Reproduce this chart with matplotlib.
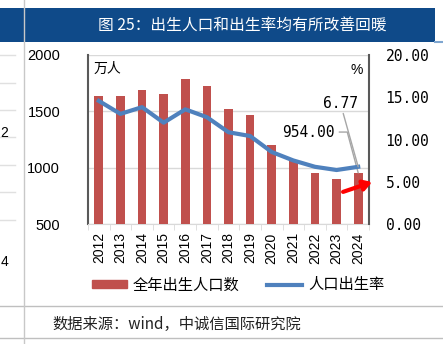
import matplotlib
matplotlib.use("Agg")
import matplotlib.pyplot as plt
import numpy as np
from matplotlib.patches import Rectangle
from matplotlib.lines import Line2D

plt.rcParams['font.family'] = ['Noto Sans CJK SC', 'DejaVu Sans']

years = ['2012', '2013', '2014', '2015', '2016', '2017', '2018', '2019',
         '2020', '2021', '2022', '2023', '2024']
births = [1635, 1640, 1687, 1655, 1786, 1723, 1523, 1465, 1202, 1062, 956, 902, 954]
rate = [14.57, 13.03, 13.83, 11.99, 13.57, 12.64, 10.86, 10.41, 8.52, 7.52, 6.77, 6.39, 6.77]
left_ticks = [500, 1000, 1500, 2000]
right_ticks = [0, 5, 10, 15, 20]

title = '图 25：出生人口和出生率均有所改善回暖'
legend_labels = ['全年出生人口数', '人口出生率']
source = '数据来源：wind，中诚信国际研究院'

W, H = 443, 344
fig = plt.figure(figsize=(W / 100, H / 100), dpi=100)

def fx(px):
    return px / W

def fy(py):
    return 1 - py / H

# Title bar
fig.patches.append(Rectangle((0, fy(42)), fx(435), fy(8) - fy(42), transform=fig.transFigure,
                             facecolor='#0f4a89', edgecolor='none', zorder=0))
fig.lines.append(Line2D([fx(435), 1], [fy(42), fy(42)], transform=fig.transFigure,
                        color='#7fa6d0', lw=1.5))
fig.text(fx(242), fy(25), title, color='white', fontsize=11.3, ha='center', va='center')

# left divider and partial neighbour chart
fig.lines.append(Line2D([fx(24), fx(24)], [fy(0), fy(344)], transform=fig.transFigure,
                        color='#c8c8c8', lw=1, zorder=5))
for gy in [55, 83, 110, 137, 165, 192, 220]:
    fig.lines.append(Line2D([0, fx(15)], [fy(gy), fy(gy)], transform=fig.transFigure,
                            color='#e0e0e0', lw=1))
fig.text(fx(0.5), fy(133), '2', fontsize=10, family='Liberation Sans', ha='left', va='center')
fig.text(fx(0.5), fy(262), '4', fontsize=10, family='Liberation Sans', ha='left', va='center')

# separator lines at bottom
fig.lines.append(Line2D([0, 1], [fy(306), fy(306)], transform=fig.transFigure, color='#bfbfbf', lw=1))
fig.lines.append(Line2D([0, 1], [fy(338), fy(338)], transform=fig.transFigure, color='#bfbfbf', lw=1))
fig.text(fx(52), fy(324), source, fontsize=11, ha='left', va='center', color='#222222')

# main axes
ax = fig.add_axes([fx(88), fy(224), fx(369) - fx(88), fy(55) - fy(224)])
x = np.arange(len(years))
bars = ax.bar(x, births, width=0.4, color='#c0504d', zorder=3)
ax.set_ylim(500, 2000)
ax.set_xlim(-0.5, len(years) - 0.5)
ax.set_yticks(left_ticks)
ax.set_yticklabels([str(t) for t in left_ticks], family='Liberation Sans', fontsize=10.5)
ax.tick_params(axis='y', length=0, pad=20)
ax.set_xticks(x)
ax.set_xticklabels(years, rotation=90, family='Liberation Sans', fontsize=10)
ax.tick_params(axis='x', length=0, pad=6)
ax.set_xticks(np.arange(-0.5, len(years)), minor=True)
ax.tick_params(axis='x', which='minor', length=4, color='#d9d9d9')
ax.grid(axis='y', color='#d9d9d9', lw=1, zorder=0)
ax.spines['top'].set_visible(False)
ax.spines['bottom'].set_color('#d9d9d9')
ax.spines['left'].set_color('#595959')
ax.spines['left'].set_linewidth(1.5)
ax.spines['right'].set_visible(False)

ax2 = ax.twinx()
line, = ax2.plot(x, rate, color='#4f81bd', lw=3, zorder=4)
ax2.set_ylim(0, 20)
ax2.set_yticks(right_ticks)
ax2.set_yticklabels(['%.2f' % t for t in right_ticks], family='DejaVu Sans Mono', fontsize=10.5)
ax2.tick_params(axis='y', length=0, pad=12)
ax2.spines['top'].set_visible(False)
ax2.spines['left'].set_visible(False)
ax2.spines['bottom'].set_visible(False)
ax2.spines['right'].set_color('#595959')
ax2.spines['right'].set_linewidth(1.5)

# unit labels
ax.text(0.02, 0.92, '万人', transform=ax.transAxes, fontsize=10, ha='left', va='center')
ax.text(0.955, 0.91, '%', transform=ax.transAxes, fontsize=10, ha='center', va='center',
        family='Liberation Sans')

# data labels with leader lines
ax2.annotate('6.77', xy=(12, rate[-1]), xytext=(12.0, 14.3), ha='right', va='center',
             fontsize=10.5, family='DejaVu Sans Mono',
             arrowprops=dict(arrowstyle='-', color='#a6a6a6', lw=1,
                             shrinkA=0, shrinkB=0, relpos=(0.55, 0)),
             annotation_clip=False, zorder=6)
ax.annotate('954.00', xy=(12, births[-1]), xytext=(10.93, 1316), ha='right', va='center',
            fontsize=10.5, family='DejaVu Sans Mono',
            arrowprops=dict(arrowstyle='-', color='#a6a6a6', lw=1, shrinkA=1, shrinkB=0,
                            connectionstyle='angle,angleA=0,angleB=105,rad=0'),
            annotation_clip=False, zorder=6)

# red arrow
ax2.annotate('', xy=(12.65, 4.97), xytext=(11.3, 3.8),
             arrowprops=dict(arrowstyle='-|>,head_length=0.5,head_width=0.3', color='#ff0000',
                             lw=3, shrinkA=0, shrinkB=0),
             annotation_clip=False, zorder=7)

# legend
leg = fig.legend([Rectangle((0, 0), 1, 1, color='#c0504d'), Line2D([0], [0], color='#4f81bd', lw=3)],
                 legend_labels, loc='center', bbox_to_anchor=(fx(238), fy(285)), ncol=2,
                 frameon=False, fontsize=11, handlelength=2.3, handleheight=0.5,
                 columnspacing=1.8, handletextpad=0.4)

fig.savefig('out.png', dpi=100)
